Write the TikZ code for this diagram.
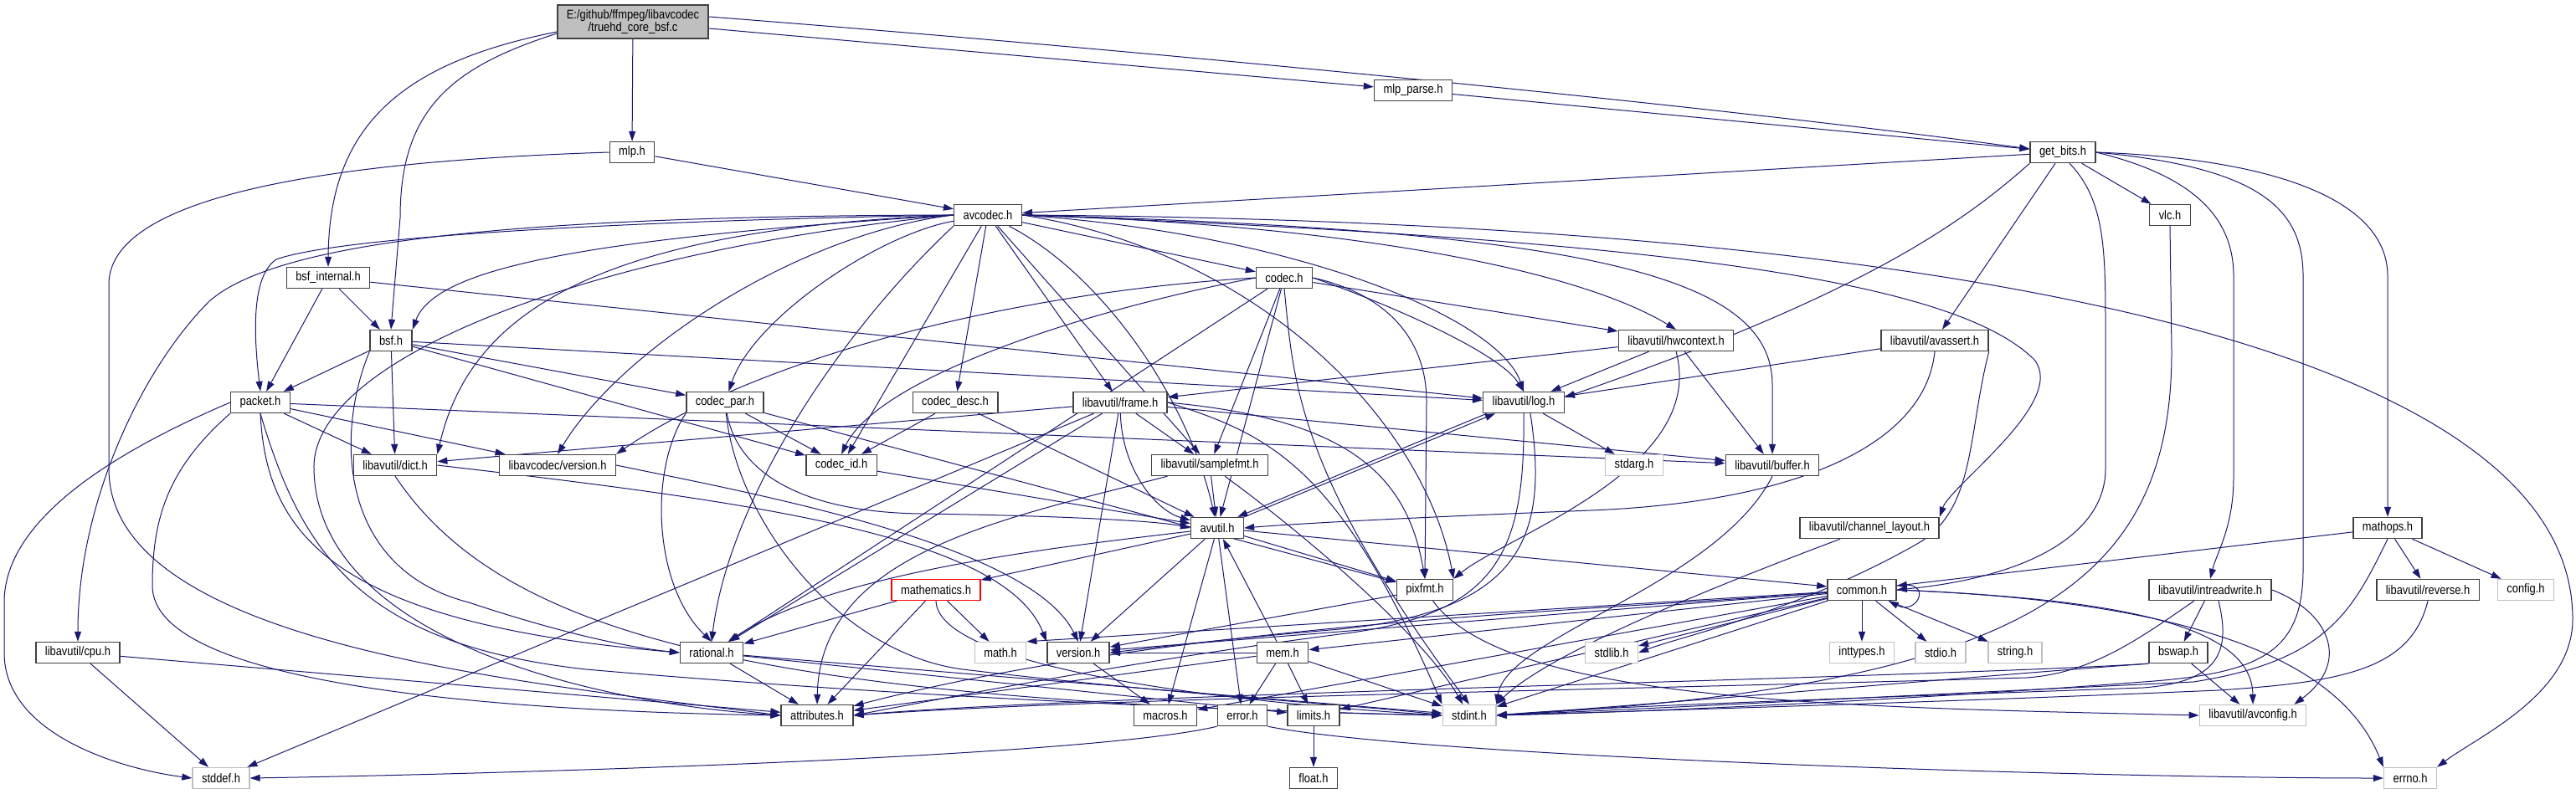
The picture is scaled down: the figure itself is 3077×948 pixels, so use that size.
\documentclass[tikz,border=0pt]{standalone}
\usepackage{fontspec}
\setmainfont{Liberation Sans}[FakeStretch=0.86]
\usepackage{tikz}
\usetikzlibrary{arrows.meta,backgrounds}
\definecolor{depblue}{HTML}{191970}
\definecolor{boxline}{HTML}{404040}
\definecolor{sysline}{HTML}{BFBFBF}
\definecolor{rootfill}{HTML}{BFBFBF}
\tikzset{
  hdr/.style={draw=boxline,line width=1.4pt,fill=white,inner xsep=11pt,inner ysep=2pt,
    minimum height=25pt,font=\fontsize{15}{15}\selectfont},
  syshdr/.style={hdr,draw=sysline},
  redhdr/.style={hdr,draw=red},
  roothdr/.style={hdr,fill=rootfill,align=center,minimum height=40pt},
  dep/.style={draw=depblue,line width=1pt,-{Triangle[length=12pt,width=8pt]}}
}

\begin{document}
\begin{tikzpicture}[x=1pt,y=-1pt]
    \useasboundingbox (0,0) rectangle (3077,948);
    % headers
    \node[roothdr] (root) at (756,26) {E:/github/ffmpeg/libavcodec\\/truehd\_core\_bsf.c};
    \node[hdr] (mlp) at (755,182) {mlp.h};
    \node[hdr] (mlpparse) at (1688,108) {mlp\_parse.h};
    \node[hdr] (getbits) at (2464,182) {get\_bits.h};
    \node[hdr] (avcodec) at (1180,257) {avcodec.h};
    \node[hdr] (vlc) at (2592,257) {vlc.h};
    \node[hdr] (bsfint) at (392,332) {bsf\_internal.h};
    \node[hdr] (codec) at (1534,332) {codec.h};
    \node[hdr] (bsf) at (467,407) {bsf.h};
    \node[hdr] (hwctx) at (2002,407) {libavutil/hwcontext.h};
    \node[hdr] (avassert) at (2311,407) {libavutil/avassert.h};
    \node[hdr] (packet) at (311,481) {packet.h};
    \node[hdr] (codecpar) at (866,481) {codec\_par.h};
    \node[hdr] (codecdesc) at (1141,481) {codec\_desc.h};
    \node[hdr] (frame) at (1338,481) {libavutil/frame.h};
    \node[hdr] (log) at (1820,481) {libavutil/log.h};
    \node[hdr] (dict) at (472,556) {libavutil/dict.h};
    \node[hdr] (lavcver) at (666,556) {libavcodec/version.h};
    \node[hdr] (codecid) at (1005,556) {codec\_id.h};
    \node[hdr] (samplefmt) at (1445,556) {libavutil/samplefmt.h};
    \node[syshdr] (stdarg) at (1952,556) {stdarg.h};
    \node[hdr] (buffer) at (2117,556) {libavutil/buffer.h};
    \node[hdr] (avutil) at (1454,631) {avutil.h};
    \node[hdr] (chlayout) at (2233,631) {libavutil/channel\_layout.h};
    \node[hdr] (mathops) at (2852,631) {mathops.h};
    \node[redhdr] (mathem) at (1118,705) {mathematics.h};
    \node[hdr] (pixfmt) at (1702,705) {pixfmt.h};
    \node[hdr] (common) at (2224,705) {common.h};
    \node[hdr] (intrw) at (2640,705) {libavutil/intreadwrite.h};
    \node[hdr] (reverse) at (2900,705) {libavutil/reverse.h};
    \node[syshdr] (config) at (3017,705) {config.h};
    \node[hdr] (cpu) at (93,780) {libavutil/cpu.h};
    \node[hdr] (rational) at (850,780) {rational.h};
    \node[syshdr] (mathh) at (1195,780) {math.h};
    \node[hdr] (version) at (1288,780) {version.h};
    \node[hdr] (mem) at (1532,780) {mem.h};
    \node[syshdr] (stdlib) at (1925,780) {stdlib.h};
    \node[syshdr] (inttypes) at (2224,780) {inttypes.h};
    \node[syshdr] (stdio) at (2318,780) {stdio.h};
    \node[syshdr] (stringh) at (2407,780) {string.h};
    \node[hdr] (bswap) at (2602,780) {bswap.h};
    \node[hdr] (attr) at (976,855) {attributes.h};
    \node[hdr] (macros) at (1392,855) {macros.h};
    \node[hdr] (error) at (1484,855) {error.h};
    \node[hdr] (limits) at (1569,855) {limits.h};
    \node[syshdr] (stdint) at (1755,855) {stdint.h};
    \node[syshdr] (avconfig) at (2691,855) {libavutil/avconfig.h};
    \node[syshdr] (stddef) at (264,930) {stddef.h};
    \node[hdr] (floath) at (1569,930) {float.h};
    \node[syshdr] (errno) at (2879,930) {errno.h};

    \begin{scope}[on background layer]
    \fill[white] (0,0) rectangle (3077,948);
    % includes of the source file
    \draw[dep] ([yshift=-12pt]root.west) .. controls (480,75) and (393,150) .. (bsfint.north);
    \draw[dep] ([yshift=-14pt]root.west) .. controls (540,80) and (478,130) .. (478,260) -- (bsf.north);
    \draw[dep] (root) -- (mlp);
    \draw[dep] (root) -- (mlpparse);
    \draw[dep] ([yshift=6pt]root.east) .. controls (1300,55) and (2000,120) .. ([yshift=4pt]getbits.west);
    \draw[dep] (mlpparse) -- (getbits);
    \draw[dep] (mlp) -- (avcodec);
    \draw[dep] (mlp.west) .. controls (320,195) and (130,250) .. (130,340) -- (130,560) .. controls (130,770) and (620,815) .. (attr.west);
    % get_bits.h
    \draw[dep] (getbits) -- (avcodec);
    \draw[dep] (getbits.south west) .. controls (2330,280) and (2200,360) .. ([yshift=6pt]log.east);
    \draw[dep] (getbits) -- (avassert);
    \draw[dep] (getbits) -- (vlc);
    \draw[dep] ([xshift=8pt]getbits.south) .. controls (2515,240) and (2515,300) .. (2515,400) -- (2515,560) .. controls (2515,640) and (2420,690) .. (common.east);
    \draw[dep] (getbits.east) .. controls (2620,210) and (2668,260) .. (2668,330) -- (2668,570) .. controls (2668,630) and (2648,660) .. (intrw.north);
    \draw[dep] (getbits.east) .. controls (2700,200) and (2751,250) .. (2751,330) -- (2751,680) .. controls (2751,780) and (2700,805) .. (2560,815) .. controls (2300,835) and (2000,850) .. (stdint.east);
    \draw[dep] (getbits.east) .. controls (2720,190) and (2852,240) .. (2852,330) -- (mathops.north);
    \draw[dep] (vlc.south) -- (2594,420) .. controls (2594,700) and (2420,820) .. (stdint.east);
    % avcodec.h
    \draw[dep] (avcodec) -- (codec);
    \draw[dep] (avcodec) -- (codecdesc);
    \draw[dep] (avcodec) .. controls (1050,280) and (900,380) .. (codecpar);
    \draw[dep] (avcodec) -- (frame);
    \draw[dep] (avcodec) -- (codecid);
    \draw[dep] (avcodec) -- (samplefmt);
    \draw[dep] (avcodec.west) .. controls (700,285) and (520,320) .. (bsf.north east);
    \draw[dep] (avcodec.west) .. controls (700,265) and (400,285) .. (330,310) .. controls (300,330) and (303,400) .. (packet.north);
    \draw[dep] (avcodec.west) .. controls (600,258) and (330,290) .. (250,360) .. controls (170,440) and (93,600) .. (cpu.north);
    \draw[dep] (avcodec.west) .. controls (700,275) and (560,380) .. (dict.north east);
    \draw[dep] (avcodec.west) .. controls (950,280) and (740,420) .. (lavcver.north);
    \draw[dep] (avcodec.west) .. controls (700,300) and (372,430) .. (375,560) .. controls (378,760) and (700,840) .. (attr.west);
    \draw[dep] (avcodec.south west) .. controls (1000,400) and (870,600) .. (rational.north);
    \draw[dep] (avcodec) .. controls (1320,330) and (1420,480) .. (avutil);
    \draw[dep] (avcodec.east) .. controls (1550,280) and (1790,380) .. (log.north);
    \draw[dep] (avcodec.east) .. controls (1600,268) and (1880,320) .. (hwctx.north);
    \draw[dep] (avcodec.east) .. controls (1900,275) and (2117,330) .. (2117,460) -- (buffer.north);
    \draw[dep] (avcodec.east) .. controls (1950,285) and (2330,330) .. (2430,430) .. controls (2470,480) and (2330,580) .. (chlayout.north east);
    \draw[dep] (avcodec.east) .. controls (1500,300) and (1700,500) .. (pixfmt.north east);
    \draw[dep] (avcodec.east) .. controls (2400,265) and (3073,430) .. (3073,740) .. controls (3073,830) and (2960,880) .. (errno.north east);
    % bsf_internal.h, bsf.h
    \draw[dep] (bsfint) -- (bsf);
    \draw[dep] (bsfint) -- (packet);
    \draw[dep] (bsfint) -- (log);
    \draw[dep] (bsf) -- (packet);
    \draw[dep] (bsf) -- (dict);
    \draw[dep] (bsf) -- (codecpar);
    \draw[dep] (bsf) -- (codecid);
    \draw[dep] (bsf) -- (log);
    \draw[dep] (bsf.south west) .. controls (400,520) and (405,680) .. (560,720) .. controls (680,760) and (760,775) .. (rational.west);
    % codec.h
    \draw[dep] (codec) -- (hwctx);
    \draw[dep] (codec.east) .. controls (1650,360) and (1790,420) .. (log.north);
    \draw[dep] (codec.east) .. controls (1650,350) and (1704,400) .. (1704,480) -- (pixfmt.north);
    \draw[dep] (codec.south) .. controls (1545,450) and (1545,560) .. (stdint.north);
    \draw[dep] (codec) -- (avutil);
    \draw[dep] (codec) -- (samplefmt);
    \draw[dep] (codec.west) .. controls (1300,370) and (1050,450) .. (codecid.north);
    \draw[dep] (codec.west) .. controls (1200,350) and (900,430) .. (lavcver.north east);
    \draw[dep] (codec) -- (rational);
    % packet.h
    \draw[dep] (packet.west) .. controls (90,560) and (5,640) .. (5,720) -- (5,780) .. controls (5,880) and (150,920) .. (stddef.west);
    \draw[dep] (packet) -- (dict);
    \draw[dep] (packet) -- (lavcver);
    \draw[dep] (packet) -- (buffer);
    \draw[dep] (packet.south west) .. controls (200,560) and (182,620) .. (182,700) .. controls (182,820) and (600,850) .. (attr.west);
    \draw[dep] (packet.south) .. controls (318,640) and (400,745) .. (rational.west);
    \draw[dep] (packet.south) .. controls (360,660) and (430,770) .. (700,800) .. controls (1100,835) and (1500,850) .. (stdint.west);
    % codec_par.h, codec_desc.h, codec_id.h
    \draw[dep] (codecpar) -- (codecid);
    \draw[dep] (codecpar.south west) .. controls (775,560) and (780,700) .. (rational.north);
    \draw[dep] (codecpar) .. controls (880,620) and (1000,780) .. (1150,800) .. controls (1400,830) and (1650,845) .. (stdint.west);
    \draw[dep] (codecpar) .. controls (880,560) and (950,612) .. (1100,614) .. controls (1250,616) and (1380,622) .. (avutil.west);
    \draw[dep] (codecpar) -- (pixfmt);
    \draw[dep] (codecdesc) -- (codecid);
    \draw[dep] (codecdesc) -- (avutil);
    \draw[dep] (codecid) -- (avutil);
    \draw[dep] (lavcver.east) .. controls (900,590) and (1230,650) .. (version.north);
    % libavutil
    \draw[dep] (dict.east) .. controls (900,600) and (1200,640) .. (version.north west);
    \draw[dep] (dict.south) .. controls (600,760) and (900,838) .. (stdint.west);
    \draw[dep] (frame) -- (stddef);
    \draw[dep] (frame) -- (dict);
    \draw[dep] (frame) .. controls (1340,560) and (1380,610) .. (avutil);
    \draw[dep] (frame) -- (buffer);
    \draw[dep] (frame) -- (rational);
    \draw[dep] (frame) -- (samplefmt);
    \draw[dep] (frame.east) .. controls (1600,500) and (1680,560) .. (pixfmt.north);
    \draw[dep] (frame) -- (version);
    \draw[dep] (frame.east) .. controls (1520,520) and (1600,560) .. (stdint.north west);
    \draw[dep] (hwctx) -- (frame);
    \draw[dep] (hwctx) -- (log);
    \draw[dep] (hwctx) -- (buffer);
    \draw[dep] (hwctx.south) .. controls (2040,560) and (1800,640) .. (pixfmt.north east);
    \draw[dep] (avassert) -- (log);
    \draw[dep] (avassert.south) .. controls (2300,530) and (2150,600) .. (1900,610) .. controls (1700,618) and (1560,625) .. (avutil.east);
    \draw[dep] (avassert.south east) .. controls (2350,520) and (2360,610) .. (2290,650) .. controls (2150,730) and (2010,760) .. (stdlib.east);
    \draw[dep] (log) -- (stdarg);
    \draw[dep] ([xshift=5pt]log.south west) -- ([xshift=-8pt]avutil.north east);
    \draw[dep] (log.south) .. controls (1822,660) and (1790,735) .. (1600,758) .. controls (1350,790) and (1100,840) .. (attr.east);
    \draw[dep] ([xshift=8pt]log.south) .. controls (1850,640) and (1820,730) .. (1600,752) .. controls (1450,765) and (1370,775) .. (version.east);
    \draw[dep] (avutil) -- (common);
    \draw[dep] (avutil) -- (error);
    \draw[dep] (avutil) .. controls (1300,650) and (1000,680) .. (rational);
    \draw[dep] (avutil) -- (version);
    \draw[dep] (avutil) -- (macros);
    \draw[dep] (avutil) -- (mathem);
    \draw[dep] (avutil.north east) -- ([xshift=15pt]log.south west);
    \draw[dep] (avutil) -- (pixfmt);
    \draw[dep] (samplefmt) -- (avutil);
    \draw[dep] (samplefmt) .. controls (1200,620) and (980,660) .. (attr.north);
    \draw[dep] (samplefmt) .. controls (1560,640) and (1700,760) .. (stdint);
    \draw[dep] (buffer.south) .. controls (2050,700) and (1800,760) .. (stdint.north east);
    \draw[dep] (cpu) -- (stddef);
    \draw[dep] (cpu) -- (attr);
    \draw[dep] (chlayout) .. controls (2050,700) and (1850,780) .. (stdint.north east);
    \draw[dep] (pixfmt) -- (version);
    \draw[dep] (pixfmt) .. controls (1800,840) and (2200,845) .. (avconfig.west);
    \draw[dep] (rational) -- (attr);
    \draw[dep] (rational) -- (stdint);
    \draw[dep] (rational) -- (limits);
    \draw[dep] (mathem) -- (rational);
    \draw[dep] (mathem) -- (attr);
    \draw[dep] (mathem) -- (mathh);
    \draw[dep] (mathem.south) .. controls (1120,790) and (1400,835) .. (stdint.west);
    \draw[dep] (version) -- (macros);
    \draw[dep] (error.south east) .. controls (1700,905) and (2500,930) .. (errno.west);
    \draw[dep] (error.south west) .. controls (1300,905) and (600,925) .. (stddef.east);
    \draw[dep] (mem) -- (avutil);
    \draw[dep] (mem) -- (error);
    \draw[dep] (mem) -- (limits);
    \draw[dep] (mem) -- (stdint);
    \draw[dep] (mem) -- (attr);
    \draw[dep] (mem) -- (version);
    \draw[dep] (limits) -- (floath);
    % common.h
    \draw[dep] (common) -- (stdlib);
    \draw[dep] (common) -- (inttypes);
    \draw[dep] (common) -- (stdio);
    \draw[dep] (common) -- (stringh);
    \draw[dep] (common) -- (mathh.north east);
    \draw[dep] (common) -- (version);
    \draw[dep] (common) -- (mem);
    \draw[dep] (common) .. controls (1900,730) and (1400,745) .. (attr);
    \draw[dep] (common) -- (macros);
    \draw[dep] (common) -- (limits);
    \draw[dep] (common) -- (stdint);
    \draw[dep] (common.east) .. controls (2500,715) and (2690,740) .. (avconfig.north);
    \draw[dep] (common.east) .. controls (2650,720) and (2800,800) .. (errno.north west);
    \draw[dep] ([yshift=5pt]common.east) .. controls +(45,-8) and +(35,18) .. ([xshift=-10pt]common.south east);
    % intreadwrite.h, bswap.h, mathops.h
    \draw[dep] (intrw) -- (bswap);
    \draw[dep] (intrw.east) .. controls (2780,730) and (2810,790) .. ([xshift=-15pt]avconfig.north east);
    \draw[dep] (intrw) .. controls (2560,760) and (2500,805) .. (2420,810) .. controls (1900,825) and (1300,835) .. (attr.east);
    \draw[dep] ([xshift=10pt]intrw.south) .. controls (2665,780) and (2650,815) .. (2560,822) .. controls (2200,835) and (1900,845) .. (stdint.east);
    \draw[dep] (bswap) -- (avconfig);
    \draw[dep] (bswap.south west) .. controls (2400,805) and (2000,840) .. (stdint.east);
    \draw[dep] (bswap.south west) .. controls (2300,810) and (1300,830) .. (attr.east);
    \draw[dep] (mathops) -- (common);
    \draw[dep] (mathops) -- (config);
    \draw[dep] (mathops) -- (reverse);
    \draw[dep] (mathops.south) .. controls (2810,730) and (2780,790) .. (2620,815) .. controls (2200,835) and (1950,848) .. (stdint.east);
    \draw[dep] (reverse.south) .. controls (2880,800) and (2800,815) .. (2650,825) .. controls (2300,840) and (1950,850) .. (stdint.east);
    \end{scope}
\end{tikzpicture}
\end{document}
